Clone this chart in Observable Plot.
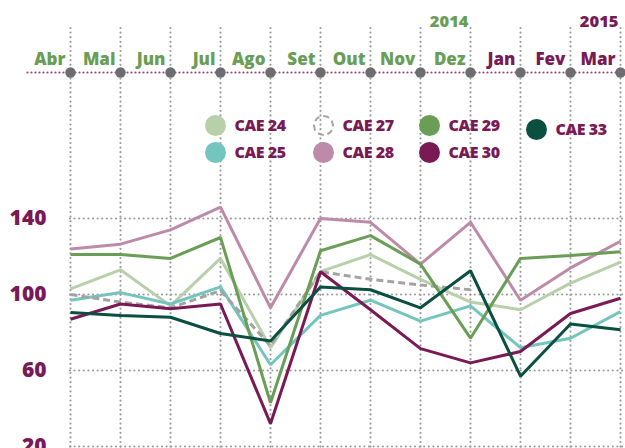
<!DOCTYPE html>
<html><head><meta charset="utf-8">
<script src="https://cdn.jsdelivr.net/npm/d3@7"></script>
<script src="https://cdn.jsdelivr.net/npm/@observablehq/plot@0.6"></script>
<style>
body{margin:0;background:#fff;font-family:"Open Sans",sans-serif}
#wrap{position:relative;width:625px;height:448px;overflow:hidden}
.lg{position:absolute;display:flex;align-items:center;font-weight:800;font-size:16px;color:#7a1a55;white-space:nowrap;letter-spacing:-0.4px}
.lg .sw{width:21px;height:21px;border-radius:50%;margin-right:9px;box-sizing:border-box}
</style></head><body><div id="wrap"></div>
<script>
const months = ["Abr","Mai","Jun","Jul","Ago","Set","Out","Nov","Dez","Jan","Fev","Mar"];
const monthYear = [2014,2014,2014,2014,2014,2014,2014,2014,2014,2015,2015,2015];
const years = ["2014","2015"];
const yearEndMonth = ["Dez","Mar"];
const yTicks = [20,60,100,140];

const cae24 = [103,113,94,119,72,112,121,108,96,92,106,117];
const cae25 = [97,101,95,104,63,89,97,86,94,72,77,91];
const cae27 = [100,96,93,102,73,112,108,105,102.5,null,null,null];
const cae28 = [124,126.5,134,146,93,140,138,116,138,97,114,128];
const cae29 = [121,121,119,130,43,123,131,116,77,119,120.5,122.5];
const cae30 = [87,95,92.5,95,32,112,92,71.5,64,70,90,98];
const cae33 = [90.5,89,88,79.5,75.5,104,102.5,93,112.5,57,84.5,81.5];

const seriesNames = ["CAE 24","CAE 25","CAE 27","CAE 28","CAE 29","CAE 30","CAE 33"];
const seriesValues = [cae24,cae25,cae27,cae28,cae29,cae30,cae33];
const seriesColors = ["#b7d0a9","#74c5be","#a3a3a3","#bd8aa8","#6a9d55","#7a1a55","#0b4f40"];

const green = "#6a9d55", purple = "#7a1a55", grid = "#9c9c9c";
const font = "'Open Sans', sans-serif";

const lineMarks = seriesNames.map((name, k) =>
  Plot.line(seriesValues[k].map((v, i) => ({month: months[i], value: v})), {
    x: "month", y: "value",
    stroke: seriesColors[k], strokeWidth: 3,
    strokeDasharray: name === "CAE 27" ? "7,4" : null,
    strokeLinejoin: "miter", strokeLinecap: "butt"
  })
);

const yearData = years.map((y, i) => ({label: y, month: yearEndMonth[i]}));

const chart = Plot.plot({
  width: 625, height: 448,
  marginTop: 72, marginLeft: 70, marginRight: 0, marginBottom: 0,
  style: {fontFamily: font, background: "#fff"},
  x: {type: "point", domain: months, range: [70, 620], padding: 0, axis: null},
  y: {domain: [20, 140], range: [446, 218], axis: null},
  marks: [
    Plot.ruleY(yTicks, {stroke: grid, strokeWidth: 2.2, strokeDasharray: "0 4.6", strokeLinecap: "round"}),
    Plot.ruleX(months, {stroke: grid, strokeWidth: 2.2, strokeDasharray: "0 4.6", strokeLinecap: "round", insetTop: -44}),
    Plot.frame({anchor: "top", stroke: "#a0407a", strokeWidth: 2.2, strokeDasharray: "0 4", strokeLinecap: "round", insetLeft: -43}),
    Plot.dot(months, {x: d => d, frameAnchor: "top", r: 5.2, fill: "#6d6d6f", stroke: "none"}),
    Plot.text(months, {x: d => d, frameAnchor: "top", lineAnchor: "middle", dy: -13, dx: -5, textAnchor: "end",
      text: d => d, fontSize: 17, fontWeight: 800, fill: (d, i) => monthYear[i] === 2014 ? green : purple}),
    Plot.text(yearData, {x: "month", text: "label", frameAnchor: "top", lineAnchor: "middle", dy: -51, dx: -2, textAnchor: "end",
      fontSize: 16.5, fontWeight: 800, fill: (d, i) => i === 0 ? green : purple}),
    Plot.text(yTicks, {y: d => d, text: d => String(d), frameAnchor: "left", lineAnchor: "middle", dx: -24, textAnchor: "end",
      fontSize: 21, fontWeight: 800, fill: purple}),
    ...lineMarks
  ]
});

const wrap = document.getElementById("wrap");
wrap.appendChild(chart);

// legend overlay
const legendPos = [[215,125],[215,152],[323,125],[323,152],[429,125],[429,152],[536,129]];
seriesNames.forEach((name, k) => {
  const d = document.createElement("div");
  d.className = "lg";
  d.style.left = (legendPos[k][0] - 10.5) + "px";
  d.style.top = (legendPos[k][1] - 12) + "px";
  d.style.height = "24px";
  const sw = document.createElement("div");
  sw.className = "sw";
  if (name === "CAE 27") { sw.style.border = "2px dashed #a3a3a3"; }
  else sw.style.background = seriesColors[k];
  d.appendChild(sw);
  const t = document.createElement("span");
  t.textContent = name;
  d.appendChild(t);
  wrap.appendChild(d);
});
</script>
</body></html>
